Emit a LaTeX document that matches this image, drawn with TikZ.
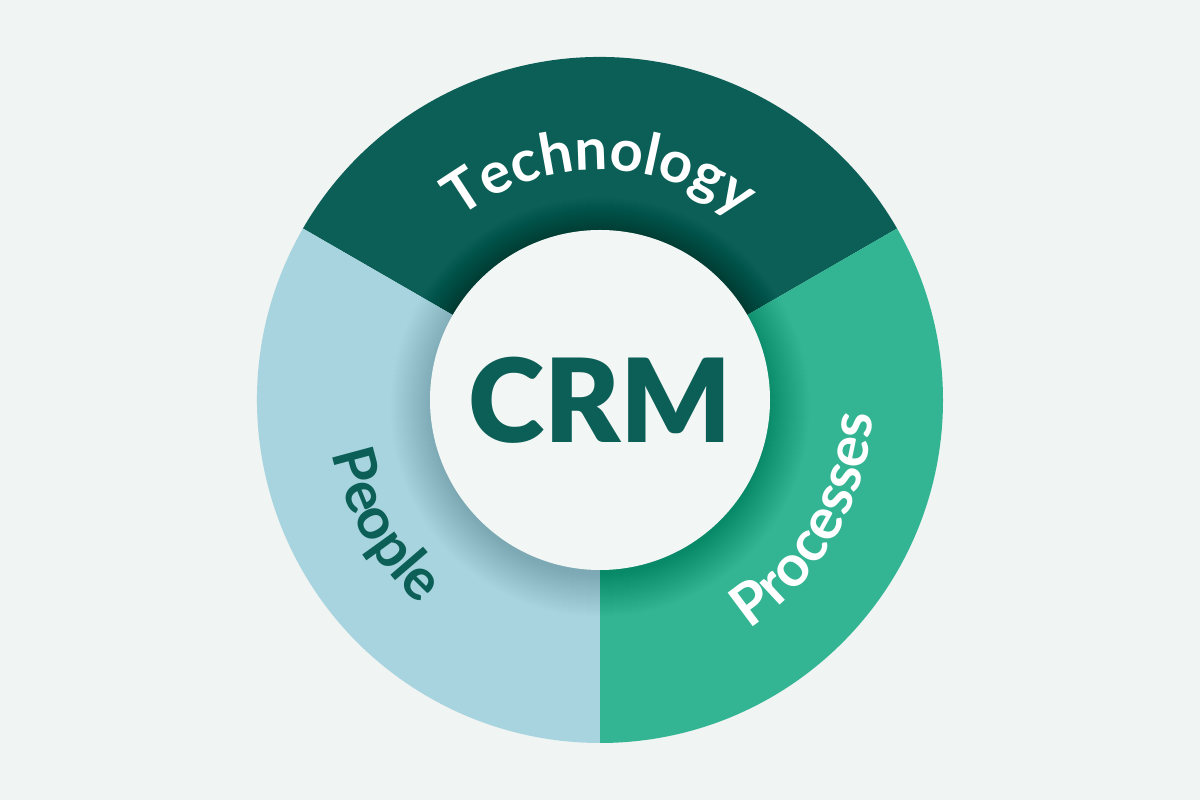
\documentclass[tikz,border=0pt]{standalone}
\usepackage{fontspec}
\setmainfont{Lato}
\newfontfamily\labelfont{Lato}[UprightFont=* Bold]
\newfontfamily\crmfont{Lato Black}
\usetikzlibrary{decorations.text}
\definecolor{bg}{HTML}{F0F4F3}
\definecolor{techc}{HTML}{0B5F56}
\definecolor{peoplec}{HTML}{A8D4DF}
\definecolor{procc}{HTML}{33B594}
\definecolor{centerc}{HTML}{F2F6F5}
\definecolor{darktxt}{HTML}{0B5F56}
\tikzset{
  shadowring/.style={fill=black, opacity=0.005},
  arclabel/.style={decorate, decoration={text along path, text align=center, text format delimiters={|}{|}}},
}
\begin{document}
\begin{tikzpicture}[x=1pt,y=1pt]
\fill[bg] (0,0) rectangle (1200,800);
\useasboundingbox (0,0) rectangle (1200,800);
\coordinate (c) at (600,400);
\coordinate (cs) at (600,393);
% sectors
\fill[techc] (c) -- ++(30:343) arc[start angle=30,end angle=150,radius=343] -- cycle;
\fill[peoplec] (c) -- ++(150:343) arc[start angle=150,end angle=270,radius=343] -- cycle;
\fill[procc] (c) -- ++(270:343) arc[start angle=270,end angle=390,radius=343] -- cycle;
% soft shadow of the centre disc
\begin{scope}
  \clip (c) circle (343);
  \foreach \r in {168,...,210} { \fill[shadowring] (cs) circle (\r); }
\end{scope}
% centre disc
\fill[centerc] (c) circle (170);
\node[text=darktxt, font=\crmfont\fontsize{116}{120}\selectfont, inner sep=0pt] (crm) at (600,400) {CRM};
% curved labels
\path[arclabel, decoration={text={|\labelfont\fontsize{58}{60}\selectfont\color{white}|Technology}}]
  (c) ++(150:230) arc[start angle=150,end angle=30,radius=230];
\path[arclabel, decoration={text={|\labelfont\fontsize{58}{60}\selectfont\color{darktxt}|People}}]
  (c) ++(170:273) arc[start angle=170,end angle=250,radius=273];
\path[arclabel, decoration={text={|\labelfont\fontsize{58}{60}\selectfont\color{white}|Processes}}]
  (c) ++(290:273) arc[start angle=290,end angle=370,radius=273];
\end{tikzpicture}
\end{document}
